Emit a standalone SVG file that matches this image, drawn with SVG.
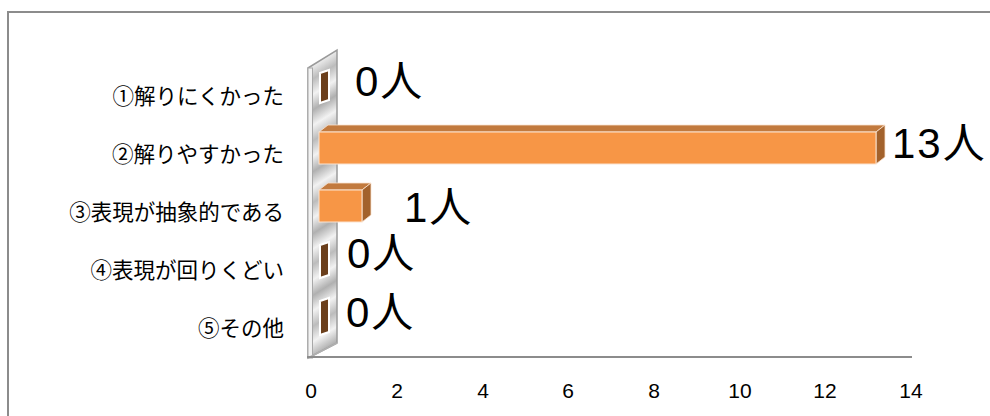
<svg xmlns="http://www.w3.org/2000/svg" width="990" height="416" viewBox="0 0 990 416">
<style>
.cat{font-family:"Noto Sans CJK JP","Liberation Sans",sans-serif;fill:#000;text-anchor:end}
.tick{font-family:"Liberation Sans","Noto Sans CJK JP",sans-serif;fill:#000;text-anchor:middle}
.val{font-family:"Liberation Sans","Noto Sans CJK JP",sans-serif;fill:#000}
.front{fill:#F79646;stroke:#fbe3cf;stroke-width:1}
.top{fill:#C27A3E;stroke:#fbe3cf;stroke-width:0.8}
.side{fill:#A3622C;stroke:#fbe3cf;stroke-width:0.8}
.zero{fill:#6B3F1C;stroke:#ffffff;stroke-width:2}
.frame{fill:none;stroke:#8c8c8c;stroke-width:2}
</style>
<defs>
<linearGradient id="wallGrad" x1="0" y1="0" x2="14" y2="22" gradientUnits="userSpaceOnUse" spreadMethod="reflect">
<stop offset="0" stop-color="#b0b0b0"/>
<stop offset="0.5" stop-color="#f2f2f2"/>
<stop offset="1" stop-color="#bcbcbc"/>
</linearGradient>
</defs>
<rect width="990" height="416" fill="#ffffff"/>
<path class="frame" d="M8,416 V12 H990"/>
<g id="wall">
<polygon points="308,68 337,50 337,343 308,358" fill="url(#wallGrad)" stroke="#9a9a9a" stroke-width="1.5"/>
<rect x="308" y="68" width="4.5" height="290" fill="#f2f2f2" stroke="#a8a8a8" stroke-width="1"/>
<line x1="308" y1="358" x2="337" y2="343" stroke="#b0b0b0" stroke-width="1.5"/>
</g>
<g id="axis" font-size="21">
<line x1="307" y1="357" x2="912" y2="357" stroke="#8c8c8c" stroke-width="2"/>
<text class="tick" x="311" y="398" font-size="21">0</text>
<text class="tick" x="397" y="398" font-size="21">2</text>
<text class="tick" x="483" y="398" font-size="21">4</text>
<text class="tick" x="568" y="398" font-size="21">6</text>
<text class="tick" x="654" y="398" font-size="21">8</text>
<text class="tick" x="740" y="398" font-size="21">10</text>
<text class="tick" x="825" y="398" font-size="21">12</text>
<text class="tick" x="911" y="398" font-size="21">14</text>
</g>
<g id="row1">
<text class="cat" x="284" y="104" font-size="21.5">①解りにくかった</text>
<polygon class="zero" points="320,73 329,70 329,100 320,103"/>
<text class="val" x="355" y="96" font-size="42" letter-spacing="2">0人</text>
</g>
<g id="row2">
<text class="cat" x="284" y="162" font-size="21.5">②解りやすかった</text>
<polygon class="top" points="319,132 328,125 885,125 876,132"/>
<polygon class="side" points="876,132 885,125 885,157 876,164"/>
<rect class="front" x="319" y="132" width="557" height="32"/>
<text class="val" x="892" y="158" font-size="42" letter-spacing="2">13人</text>
</g>
<g id="row3">
<text class="cat" x="284" y="220" font-size="21.5">③表現が抽象的である</text>
<polygon class="top" points="319,190 328,183 371,183 362,190"/>
<polygon class="side" points="362,190 371,183 371,215 362,222"/>
<rect class="front" x="319" y="190" width="43" height="32"/>
<text class="val" x="404" y="222" font-size="42" letter-spacing="2">1人</text>
</g>
<g id="row4">
<text class="cat" x="284" y="278" font-size="21.5">④表現が回りくどい</text>
<polygon class="zero" points="320,245 329,242 329,275 320,278"/>
<text class="val" x="347" y="268" font-size="42" letter-spacing="2">0人</text>
</g>
<g id="row5">
<text class="cat" x="284" y="336" font-size="21.5">⑤その他</text>
<polygon class="zero" points="320,301 329,298 329,332 320,335"/>
<text class="val" x="346" y="327" font-size="42" letter-spacing="2">0人</text>
</g>
<g id="connectors"></g>
</svg>
